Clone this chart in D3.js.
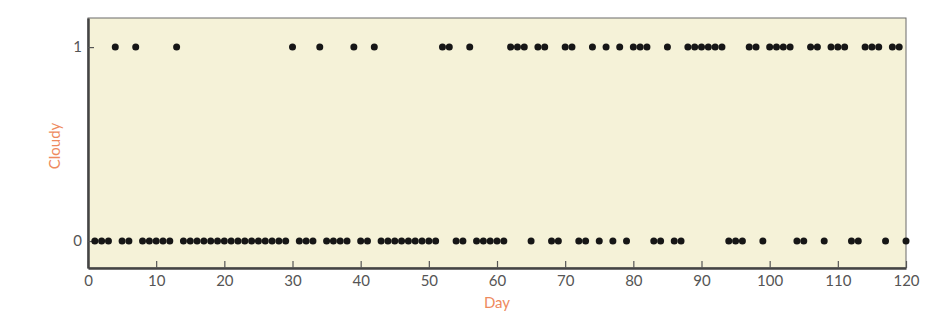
<!DOCTYPE html>
<html>
<head>
<meta charset="utf-8">
<script src="https://cdn.jsdelivr.net/npm/d3@7"></script>
<style>
  body { margin: 0; background: #fff; }
  svg text { font-family: Lato, "Open Sans", sans-serif; }
</style>
</head>
<body>
<div id="chart"></div>
<script>
// day number and whether that day was cloudy (1) or not (0)
var days = d3.range(1, 121);
var cloudy = [
  0,0,0,1,0,0,1,0,0,0, 0,0,1,0,0,0,0,0,0,0,
  0,0,0,0,0,0,0,0,0,1, 0,0,0,1,0,0,0,0,1,0,
  0,1,0,0,0,0,0,0,0,0, 0,1,1,0,0,1,0,0,0,0,
  0,1,1,1,0,1,1,0,0,1, 1,0,0,1,0,1,0,1,0,1,
  1,1,0,0,1,0,0,1,1,1, 1,1,1,0,0,0,1,1,0,1,
  1,1,1,0,0,1,1,0,1,1, 1,0,0,1,1,1,0,1,1,0
];
var xTicks = [0, 10, 20, 30, 40, 50, 60, 70, 80, 90, 100, 110, 120];
var yTicks = [0, 1];

var svgWidth = 936;
var svgHeight = 330;
// plot area edges
var plotL = 88, plotR = 906, plotT = 18, plotB = 268;

var svg = d3.select("#chart")
  .append("svg")
    .attr("width", svgWidth)
    .attr("height", svgHeight);

var x = d3.scaleLinear().domain([0, 120]).range([plotL, plotR]);
var y = d3.scaleLinear().domain([-0.139, 1.15]).range([plotB, plotT]);

// plot background
svg.append("rect")
  .attr("x", plotL)
  .attr("y", plotT)
  .attr("width", plotR - plotL)
  .attr("height", plotB - plotT)
  .style("fill", "#f5f2d8")
  .style("stroke", "#6a6a6a")
  .style("stroke-width", 1);

// x axis (ticks point inward)
var xAxis = svg.append("g")
  .attr("transform", "translate(0," + plotB + ")")
  .call(d3.axisBottom(x).tickValues(xTicks).tickSizeInner(-7).tickSizeOuter(0).tickPadding(7));
xAxis.select(".domain").style("stroke", "#444").style("stroke-width", 2.5);
xAxis.selectAll(".tick line").style("stroke", "#555").style("stroke-width", 1.2);
xAxis.selectAll("text").style("font-size", "15px").style("fill", "#555");

// y axis
var yAxis = svg.append("g")
  .attr("transform", "translate(" + plotL + ",0)")
  .call(d3.axisLeft(y).tickValues(yTicks).tickFormat(d3.format("d")).tickSizeInner(-6).tickSizeOuter(0).tickPadding(6));
yAxis.select(".domain").style("stroke", "#444").style("stroke-width", 2.5);
yAxis.selectAll(".tick line").style("stroke", "#555").style("stroke-width", 1.2);
yAxis.selectAll("text").style("font-size", "15px").style("fill", "#555");

// axis titles
svg.append("text")
  .attr("x", (plotL + plotR) / 2)
  .attr("y", 308)
  .attr("text-anchor", "middle")
  .style("font-size", "15px")
  .style("fill", "#ee8a5e")
  .text("Day");

svg.append("text")
  .attr("transform", "translate(60,146) rotate(-90)")
  .attr("text-anchor", "middle")
  .style("font-size", "15px")
  .style("fill", "#ee8a5e")
  .text("Cloudy");

// dots
svg.selectAll(".dot")
  .data(days)
  .enter()
  .append("circle")
    .attr("class", "dot")
    .attr("cx", function(d) { return x(d); })
    .attr("cy", function(d, i) { return y(cloudy[i]); })
    .attr("r", 3.5)
    .style("fill", "#161616");
</script>
</body>
</html>
